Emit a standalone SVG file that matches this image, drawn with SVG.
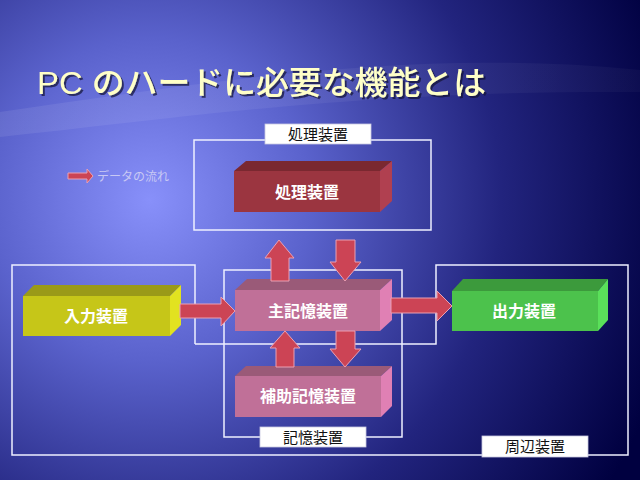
<svg xmlns="http://www.w3.org/2000/svg" width="640" height="480" viewBox="0 0 640 480">
<defs>
<radialGradient id="bg" gradientUnits="userSpaceOnUse" cx="150" cy="200" r="540">
<stop offset="0" stop-color="#8890fa"/>
<stop offset="0.3" stop-color="#5a62cc"/>
<stop offset="0.65" stop-color="#22247e"/>
<stop offset="1" stop-color="#000040"/>
</radialGradient>
<linearGradient id="sw" x1="0" y1="0" x2="1" y2="0">
<stop offset="0" stop-color="#ffffff" stop-opacity="0.08"/>
<stop offset="1" stop-color="#ffffff" stop-opacity="0.03"/>
</linearGradient>
<filter id="shadow" x="-5%" y="-20%" width="110%" height="150%">
<feDropShadow dx="2" dy="2" stdDeviation="0.6" flood-color="#101030" flood-opacity="0.7"/>
</filter>
</defs>
<style>
.frame{fill:none;stroke:#eef0ff;stroke-width:1.5}
.lbl{fill:#ffffff;stroke:#c8c8e0;stroke-width:0.8}
.lt{font-family:"Liberation Sans","Noto Sans CJK JP",sans-serif;font-size:15px;fill:#111;text-anchor:middle}
.nt{font-family:"Noto Sans CJK JP",sans-serif;font-size:16px;font-weight:bold;fill:#ffffff;text-anchor:middle}
.arr{fill:#cc4455;stroke:#eaa0b4;stroke-width:1}
</style>
<rect width="640" height="480" fill="url(#bg)"/>
<path d="M0,137 C180,118 360,90 640,92 L640,70 C420,48 220,80 0,112 Z" fill="url(#sw)"/>
<text x="37" y="94" font-family="Liberation Sans,'Noto Sans CJK JP',sans-serif" font-size="32" font-weight="500" fill="#ffffc8" filter="url(#shadow)" textLength="449" lengthAdjust="spacingAndGlyphs">PC のハードに必要な機能とは</text>

<g id="legend">
<polygon class="arr" points="68,173 87,173 87,169 93,176 87,183 87,179 68,179"/>
<text x="97" y="181" font-family="'Noto Sans CJK JP',sans-serif" font-size="12" fill="#c8c8f4">データの流れ</text>
</g>

<g id="peripheral-frame">
<polyline class="frame" points="195,344 195,265 12,265 12,455 628,455 628,265 436,265 436,344 195,344"/>
<rect class="lbl" x="482" y="436" width="106" height="21"/>
<text class="lt" x="535" y="452">周辺装置</text>
</g>

<g id="processing-frame">
<rect class="frame" x="194" y="140" width="237" height="90"/>
<rect class="lbl" x="265" y="124" width="106" height="20"/>
<text class="lt" x="318" y="140">処理装置</text>
</g>

<g id="storage-frame">
<rect class="frame" x="224" y="270" width="178" height="167"/>
<rect class="lbl" x="260" y="427" width="106" height="20"/>
<text class="lt" x="313" y="443">記憶装置</text>
</g>

<g id="cpu">
<polygon points="234,171 246,161 392,161 380,171" fill="#7a2830"/>
<polygon points="380,171 392,161 392,201 380,212" fill="#b04050"/>
<rect x="234" y="171" width="146" height="41" fill="#9b3540"/>
<text class="nt" x="307" y="198">処理装置</text>
</g>

<g id="main-memory">
<polygon points="235,290 247,279 392,279 380,290" fill="#9a5a78"/>
<polygon points="380,290 392,279 392,320 380,331" fill="#e080b4"/>
<rect x="235" y="290" width="145" height="41" fill="#c07098"/>
<text class="nt" x="308" y="317">主記憶装置</text>
</g>

<g id="aux-memory">
<polygon points="235,376 246,366 392,366 381,376" fill="#9a5a78"/>
<polygon points="381,376 392,366 392,406 381,417" fill="#e080b4"/>
<rect x="235" y="376" width="146" height="41" fill="#c07098"/>
<text class="nt" x="308" y="402">補助記憶装置</text>
</g>

<g id="input">
<polygon points="23,296 34,285 181,285 170,296" fill="#9a9a18"/>
<polygon points="170,296 181,285 181,325 170,336" fill="#e2e220"/>
<rect x="23" y="296" width="147" height="40" fill="#c6c618"/>
<text class="nt" x="96" y="322">入力装置</text>
</g>

<g id="output">
<polygon points="452,291 463,279 608,279 598,291" fill="#3c9a3c"/>
<polygon points="598,291 608,279 608,320 598,331" fill="#5ae05a"/>
<rect x="452" y="291" width="146" height="40" fill="#4cc24c"/>
<text class="nt" x="524" y="317">出力装置</text>
</g>

<g id="connectors">
<polygon class="arr" points="180,304 221,304 221,297 235,311 221,326 221,318 180,318"/>
<polygon class="arr" points="391,298 437,298 437,291 452,306 437,321 437,313 391,313"/>
<polygon class="arr" points="271,281 271,258 265,258 279,240 294,258 289,258 289,281"/>
<polygon class="arr" points="336,240 355,240 355,262 361,262 345,281 330,262 336,262"/>
<polygon class="arr" points="276,367 276,348 270,348 285,331 300,348 294,348 294,367"/>
<polygon class="arr" points="336,331 355,331 355,349 361,349 345,367 330,349 336,349"/>
</g>
</svg>
